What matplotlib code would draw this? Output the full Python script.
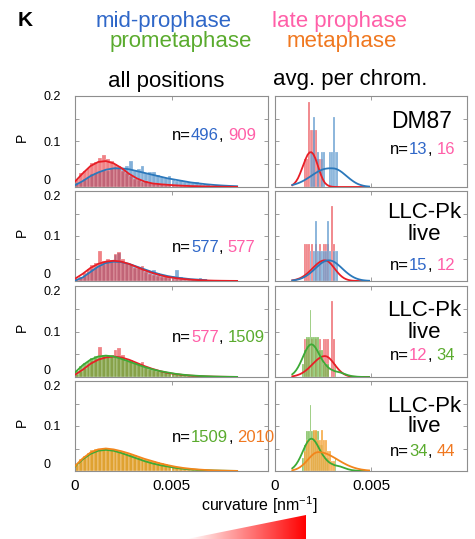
import numpy as np
import matplotlib
matplotlib.use("Agg")
import matplotlib.pyplot as plt
from matplotlib.patches import Polygon
from matplotlib.colors import LinearSegmentedColormap

plt.rcParams['font.family'] = ['Liberation Sans', 'DejaVu Sans']
plt.rcParams['mathtext.fontset'] = 'custom'
plt.rcParams['mathtext.rm'] = 'Liberation Sans'

# ---------------- data ----------------
# left panels ("all positions"): histogram bins of width 0.0002 nm^-1
left_bins = np.round(np.arange(0, 0.0084, 0.0002), 4)

mid496_p = [0.008, 0.012, 0.018, 0.022, 0.028, 0.030, 0.034, 0.038, 0.036, 0.040,
            0.044, 0.042, 0.040, 0.046, 0.058, 0.036, 0.040, 0.046, 0.030, 0.034,
            0.033, 0.026, 0.022, 0.020, 0.024, 0.016, 0.014, 0.016, 0.012, 0.010,
            0.009, 0.010, 0.006, 0.005, 0.006, 0.003, 0.003, 0.002, 0.002, 0.001,
            0.001, 0.001]
late909_p = [0.018, 0.030, 0.036, 0.042, 0.052, 0.055, 0.064, 0.070, 0.062, 0.058,
             0.050, 0.046, 0.036, 0.030, 0.024, 0.018, 0.015, 0.012, 0.013, 0.008,
             0.009, 0.006, 0.007, 0.005, 0.004, 0.004, 0.003, 0.003, 0.002, 0.002,
             0.002, 0.001, 0.001, 0.001, 0.001, 0.0005, 0.0005, 0.0005, 0, 0, 0, 0]
mid577_p = [0.002, 0.006, 0.012, 0.020, 0.026, 0.030, 0.034, 0.036, 0.040, 0.046,
            0.058, 0.062, 0.042, 0.040, 0.036, 0.034, 0.030, 0.028, 0.024, 0.022,
            0.024, 0.018, 0.014, 0.012, 0.010, 0.012, 0.024, 0.008, 0.006, 0.004,
            0.004, 0.003, 0.006, 0.002, 0, 0, 0, 0, 0, 0, 0, 0]
late577_p = [0.004, 0.010, 0.018, 0.026, 0.035, 0.040, 0.066, 0.044, 0.048, 0.046,
             0.060, 0.064, 0.048, 0.040, 0.038, 0.030, 0.028, 0.034, 0.020, 0.016,
             0.014, 0.012, 0.010, 0.008, 0.007, 0.005, 0.004, 0.004, 0.003, 0.002,
             0.002, 0.002, 0.001, 0.001, 0.001, 0.001, 0.0005, 0.0005, 0, 0, 0, 0]
pro1509_p = [0.013, 0.024, 0.030, 0.036, 0.041, 0.046, 0.044, 0.049, 0.046, 0.048,
             0.044, 0.043, 0.041, 0.036, 0.035, 0.030, 0.029, 0.024, 0.023, 0.019,
             0.018, 0.014, 0.014, 0.011, 0.010, 0.009, 0.007, 0.006, 0.005, 0.004,
             0.004, 0.003, 0.003, 0.002, 0.002, 0.001, 0.001, 0.001, 0.001, 0.0005,
             0.0005, 0.0003]
meta2010_p = [0.014, 0.026, 0.034, 0.041, 0.046, 0.048, 0.050, 0.051, 0.049, 0.049,
              0.047, 0.045, 0.043, 0.041, 0.038, 0.035, 0.032, 0.029, 0.026, 0.024,
              0.022, 0.019, 0.017, 0.015, 0.013, 0.011, 0.010, 0.008, 0.007, 0.006,
              0.005, 0.004, 0.003, 0.003, 0.002, 0.002, 0.0015, 0.001, 0.001, 0.0008,
              0.0005, 0.0004]

# fitted curves, left panels
left_fit_x = [0.0000, 0.0004, 0.0008, 0.0012, 0.0016, 0.0020, 0.0024, 0.0028,
              0.0032, 0.0036, 0.0040, 0.0044, 0.0048, 0.0052, 0.0056, 0.0060,
              0.0064, 0.0068, 0.0072, 0.0076, 0.0080, 0.0084]
mid496_fit = [0.004, 0.013, 0.024, 0.032, 0.038, 0.041, 0.041, 0.039, 0.035, 0.031, 0.027,
              0.023, 0.019, 0.016, 0.013, 0.010, 0.008, 0.006, 0.0045, 0.0033, 0.0024, 0.0017]
late909_fit = [0.012, 0.030, 0.046, 0.055, 0.057, 0.052, 0.042, 0.029, 0.019, 0.012, 0.008,
               0.0062, 0.0048, 0.0037, 0.0028, 0.0021, 0.0016, 0.0012, 0.0009, 0.0006, 0.0004, 0.0003]
mid577_fit = [0.001, 0.008, 0.020, 0.032, 0.040, 0.043, 0.042, 0.038, 0.032, 0.026, 0.020,
              0.015, 0.011, 0.008, 0.006, 0.004, 0.003, 0.002]
late577_fit = [0.005, 0.016, 0.029, 0.038, 0.043, 0.045, 0.043, 0.038, 0.031, 0.024, 0.018,
               0.013, 0.009, 0.0065, 0.0045, 0.003, 0.002, 0.0013, 0.0008, 0.0005, 0.0003, 0.0002]
pro1509_fit = [0.010, 0.026, 0.038, 0.045, 0.047, 0.045, 0.040, 0.034, 0.028, 0.022, 0.017,
               0.013, 0.010, 0.007, 0.005, 0.0035, 0.0025, 0.0017, 0.0011, 0.0007, 0.0004, 0.0002]
meta2010_fit = [0.011, 0.028, 0.041, 0.048, 0.050, 0.048, 0.044, 0.039, 0.033, 0.027, 0.022,
                0.017, 0.013, 0.0095, 0.0068, 0.0048, 0.0033, 0.0022, 0.0014, 0.0009, 0.0005, 0.0002]

# right panels ("avg. per chrom."): bins of width 0.0001, counts per bin
dm87_mid_bins = [0.0018, 0.0019, 0.0020, 0.0022, 0.0024, 0.0025, 0.0028, 0.0029, 0.0030, 0.0031, 0.0032]
dm87_mid_counts = [1, 1, 2, 1, 1, 1, 1, 1, 2, 1, 1]
dm87_late_bins = [0.0015, 0.0016, 0.0017, 0.0018, 0.0019, 0.0020, 0.0021, 0.0022, 0.0023, 0.0024]
dm87_late_counts = [1, 1, 3, 2, 2, 2, 2, 1, 1, 1]
live_mid_bins = [0.0018, 0.0020, 0.0021, 0.0022, 0.0023, 0.0024, 0.0025, 0.0026, 0.0027,
                 0.0028, 0.0030, 0.0031, 0.0032]
live_mid_counts = [1, 1, 2, 1, 1, 1, 1, 1, 2, 1, 1, 1, 1]
live_late_bins = [0.0015, 0.0016, 0.0017, 0.0019, 0.0021, 0.0023, 0.0025, 0.0026, 0.0027, 0.0029, 0.0030]
live_late_counts = [1, 1, 1, 1, 1, 1, 1, 1, 1, 2, 1]
live_pro_bins = [0.0014, 0.0015, 0.0016, 0.0017, 0.0018, 0.0019, 0.0020, 0.0021, 0.0022,
                 0.0023, 0.0024, 0.0025, 0.0026, 0.0027, 0.0031]
live_pro_counts = [1, 2, 3, 3, 5, 3, 3, 3, 3, 2, 2, 1, 1, 1, 1]
live_meta_bins = [0.0015, 0.0016, 0.0017, 0.0018, 0.0019, 0.0020, 0.0021, 0.0022, 0.0023,
                  0.0024, 0.0025, 0.0026, 0.0027, 0.0028, 0.0029, 0.0030]
live_meta_counts = [2, 3, 3, 3, 3, 4, 4, 3, 3, 4, 3, 3, 2, 2, 1, 1]

right_fit_x = [0.0009, 0.0010, 0.0011, 0.0012, 0.0013, 0.0014, 0.0015, 0.0016, 0.0017,
               0.0018, 0.0019, 0.0020, 0.0021, 0.0022, 0.0023, 0.0024, 0.0025, 0.0026,
               0.0027, 0.0028, 0.0029, 0.0030, 0.0031, 0.0032, 0.0033, 0.0034, 0.0035,
               0.0036, 0.0037, 0.0038, 0.0039, 0.0040, 0.0041, 0.0042, 0.0043, 0.0044,
               0.0045, 0.0046, 0.0047, 0.0048, 0.0049]
dm87_late_fit = [0.004, 0.0075, 0.0125, 0.0195, 0.029, 0.040, 0.051, 0.062, 0.071, 0.076,
                 0.0765, 0.072, 0.063, 0.051, 0.038, 0.026, 0.016, 0.009, 0.005, 0.0025,
                 0.0012, 0.0005, 0.0002, 0.0001, 0, 0, 0, 0, 0, 0, 0, 0, 0, 0, 0, 0, 0, 0, 0, 0, 0]
dm87_mid_fit = [0.0045, 0.0055, 0.0068, 0.0083, 0.010, 0.012, 0.0142, 0.0167, 0.0193, 0.022,
                0.0248, 0.0276, 0.0303, 0.0329, 0.0352, 0.0372, 0.0388, 0.0399, 0.0406, 0.041,
                0.0411, 0.041, 0.0406, 0.0395, 0.0375, 0.035, 0.032, 0.0285, 0.025, 0.0215,
                0.018, 0.0148, 0.0118, 0.0092, 0.007, 0.0053, 0.0039, 0.0028, 0.002, 0.0014, 0.001]
live_mid_fit = [0.0012, 0.0017, 0.0024, 0.0034, 0.0046, 0.0062, 0.0082, 0.0106, 0.0134, 0.0166,
                0.0201, 0.0239, 0.0279, 0.0319, 0.0356, 0.0391, 0.042, 0.0442, 0.0455, 0.046,
                0.0455, 0.0442, 0.042, 0.0391, 0.0356, 0.0319, 0.0279, 0.0239, 0.0201, 0.0166,
                0.0134, 0.0106, 0.0082, 0.0062, 0.0046, 0.0034, 0.0024, 0.0017, 0.0012, 0.0008, 0.0006]
live_late_fit = [0.0015, 0.0022, 0.0032, 0.0046, 0.0062, 0.0084, 0.011, 0.0141, 0.0176, 0.0216,
                 0.0258, 0.030, 0.0342, 0.0381, 0.0414, 0.0439, 0.0455, 0.046, 0.0451, 0.0425,
                 0.0384, 0.0334, 0.0279, 0.0224, 0.0173, 0.0128, 0.0091, 0.0062, 0.0041, 0.0026,
                 0.0016, 0.0009, 0.0005, 0.0003, 0.0001, 0, 0, 0, 0, 0, 0]
live_pro_fit = [0.006, 0.0097, 0.0148, 0.0215, 0.0296, 0.0388, 0.0485, 0.0577, 0.0652, 0.0703,
                0.072, 0.070, 0.065, 0.058, 0.050, 0.042, 0.035, 0.029, 0.024, 0.020,
                0.017, 0.015, 0.013, 0.012, 0.011, 0.010, 0.0085, 0.007, 0.0055, 0.004,
                0.003, 0.002, 0.0014, 0.001, 0.0006, 0.0004, 0.0002, 0.0001, 0, 0, 0]
live_meta_fit = [0.0016, 0.0026, 0.004, 0.0059, 0.0084, 0.0117, 0.0155, 0.0198, 0.0245, 0.0293,
                 0.0338, 0.0376, 0.0404, 0.0418, 0.0419, 0.0415, 0.0407, 0.0395, 0.038, 0.0361,
                 0.034, 0.0317, 0.0293, 0.0268, 0.0242, 0.0217, 0.0192, 0.0169, 0.0147, 0.0126,
                 0.0108, 0.0091, 0.0076, 0.0063, 0.0051, 0.0042, 0.0033, 0.0027, 0.0021, 0.0016, 0.0013]

# ---------------- styles ----------------
C = {
    'mid':  dict(bar='#4d8fca', line='#2b78bb', text='#2f67c8'),
    'late': dict(bar='#e8363c', line='#e81e26', text='#ff5fa8'),
    'pro':  dict(bar='#5fae32', line='#3caa36', text='#5aab2e'),
    'meta': dict(bar='#f59a23', line='#f2861c', text='#f07820'),
}
BAR_ALPHA = {'mid': 0.7, 'late': 0.62, 'pro': 0.72, 'meta': 0.8}
SPINE = '#8e8e8e'

W, H = 475, 539
fig = plt.figure(figsize=(W / 100, H / 100), dpi=100)

def add_px_axes(x0, x1, y0, y1):
    return fig.add_axes([x0 / W, 1 - y1 / H, (x1 - x0) / W, (y1 - y0) / H])

rows_px = [(96, 187), (191, 281), (286, 377), (381, 471)]
left_px = (75, 268)
right_px = (275, 467)

def style_axes(ax, ylabels, xlabels, row):
    ax.set_xlim(0, 0.01)
    ax.set_ylim(0, 0.2)
    ax.set_xticks([0, 0.005, 0.01])
    ax.set_yticks([0, 0.05, 0.1, 0.15, 0.2])
    ax.tick_params(direction='in', length=3, width=0.6, color=SPINE,
                   top=True, right=True)
    ax.tick_params(axis='y', pad=23, labelsize=9)
    ax.tick_params(axis='x', pad=6, labelsize=11)
    for s in ax.spines.values():
        s.set_color(SPINE)
        s.set_linewidth(0.8)
    if ylabels:
        ax.set_yticklabels(['0', '', '0.1', '', '0.2'], ha='left')
        labs = ax.get_yticklabels()
        labs[0].set_va('bottom')
        if row > 0:
            labs[4].set_va('top')
    else:
        ax.set_yticklabels([])
    if xlabels:
        ax.set_xticklabels(['0', '0.005', ''])
    else:
        ax.set_xticklabels([])

def hist_left(ax, vals, key):
    ax.bar(left_bins, vals, width=0.0002, align='edge', color=C[key]['bar'],
           alpha=BAR_ALPHA[key], edgecolor='white', linewidth=0.25, zorder=2)

def fit_left(ax, vals, key):
    ax.plot(left_fit_x[:len(vals)], vals, color=C[key]['line'], lw=1.3, zorder=4)

def hist_right(ax, bins, counts, n, key):
    ax.bar(bins, np.array(counts) / n, width=0.0001, align='edge', color=C[key]['bar'],
           alpha=BAR_ALPHA[key], edgecolor='white', linewidth=0.2, zorder=2)

def fit_right(ax, vals, key):
    ax.plot(right_fit_x, vals, color=C[key]['line'], lw=1.3, zorder=4)

left_rows = [
    [('mid', mid496_p, mid496_fit), ('late', late909_p, late909_fit)],
    [('mid', mid577_p, mid577_fit), ('late', late577_p, late577_fit)],
    [('late', late577_p, late577_fit), ('pro', pro1509_p, pro1509_fit)],
    [('pro', pro1509_p, pro1509_fit), ('meta', meta2010_p, meta2010_fit)],
]
right_rows = [
    [('late', dm87_late_bins, dm87_late_counts, 16, dm87_late_fit),
     ('mid', dm87_mid_bins, dm87_mid_counts, 13, dm87_mid_fit)],
    [('late', live_late_bins, live_late_counts, 12, live_late_fit),
     ('mid', live_mid_bins, live_mid_counts, 15, live_mid_fit)],
    [('late', live_late_bins, live_late_counts, 12, live_late_fit),
     ('pro', live_pro_bins, live_pro_counts, 34, live_pro_fit)],
    [('pro', live_pro_bins, live_pro_counts, 34, live_pro_fit),
     ('meta', live_meta_bins, live_meta_counts, 44, live_meta_fit)],
]

for r, (y0, y1) in enumerate(rows_px):
    axl = add_px_axes(left_px[0], left_px[1], y0, y1)
    for key, p, _ in left_rows[r]:
        hist_left(axl, p, key)
    for key, _, fit in left_rows[r]:
        fit_left(axl, fit, key)
    style_axes(axl, True, r == 3, r)

    axr = add_px_axes(right_px[0], right_px[1], y0, y1)
    for key, b, c, n, _ in right_rows[r]:
        hist_right(axr, b, c, n, key)
    for key, b, c, n, fit in right_rows[r]:
        fit_right(axr, fit, key)
    style_axes(axr, False, r == 3, r)

# ---------------- overlay text (pixel coordinates) ----------------
ov = fig.add_axes([0, 0, 1, 1], zorder=10)
ov.set_xlim(0, W)
ov.set_ylim(H, 0)
ov.axis('off')

def chain(x, y, pieces, size):
    t = ov.text(x, y, pieces[0][0], color=pieces[0][1], fontsize=size,
                ha='left', va='center')
    for s, col, gap in pieces[1:]:
        t = ov.annotate(s, xy=(1, 0), xycoords=t, xytext=(gap, 0),
                        textcoords='offset points', ha='left', va='bottom',
                        color=col, fontsize=size)
    return t

def n_label(x, y, a, ka, b, kb):
    chain(x, y, [('n=', 'black'), (a, C[ka]['text'], 0), (',', 'black', 0),
                 (b, C[kb]['text'], 3.2)], 12)

ov.text(18, 20, 'K', fontsize=15, weight='bold', ha='left', va='center')
ov.text(164, 21, 'mid-prophase', color=C['mid']['text'], fontsize=16, ha='center', va='center')
ov.text(340, 21, 'late prophase', color=C['late']['text'], fontsize=16, ha='center', va='center')
ov.text(181, 41, 'prometaphase', color=C['pro']['text'], fontsize=16, ha='center', va='center')
ov.text(342, 41, 'metaphase', color=C['meta']['text'], fontsize=16, ha='center', va='center')
ov.text(166, 81, 'all positions', fontsize=16, ha='center', va='center')
ov.text(350, 80, 'avg. per chrom.', fontsize=16, ha='center', va='center')

for (y0, y1) in rows_px:
    ov.text(22, (y0 + y1) / 2 - 4, 'P', fontsize=10, rotation=90, ha='center', va='center')

n_label(172, 135, '496', 'mid', '909', 'late')
n_label(172, 248, '577', 'mid', '577', 'late')
n_label(172, 338, '577', 'late', '1509', 'pro')
n_label(172, 438, '1509', 'pro', '2010', 'meta')

ov.text(422, 122, 'DM87', fontsize=16.5, ha='center', va='center')
for yy in (213, 311, 406):
    ov.text(424, yy, 'LLC-Pk', fontsize=16, ha='center', va='center')
    ov.text(424, yy + 21, 'live', fontsize=16, ha='center', va='center')
n_label(390, 150, '13', 'mid', '16', 'late')
n_label(390, 266, '15', 'mid', '12', 'late')
n_label(390, 355, '12', 'late', '34', 'pro')
n_label(390, 452, '34', 'pro', '44', 'meta')

ov.text(259, 505, r'curvature [nm$^{\mathregular{-1}}$]', fontsize=11.5, ha='center', va='center')

# red gradient wedge under the x label
cmap = LinearSegmentedColormap.from_list('wr', ['#ffffff', '#ff0000'])
grad = np.linspace(0, 1, 256)[None, :]
im = ov.imshow(grad, cmap=cmap, extent=[187, 306, 539, 515], aspect='auto', zorder=1)
tri = Polygon([[187, 539], [306, 515], [306, 539]], closed=True, transform=ov.transData,
              facecolor='none', edgecolor='none')
ov.add_patch(tri)
im.set_clip_path(tri)
ov.set_xlim(0, W)
ov.set_ylim(H, 0)

fig.savefig('out.png', dpi=100)
